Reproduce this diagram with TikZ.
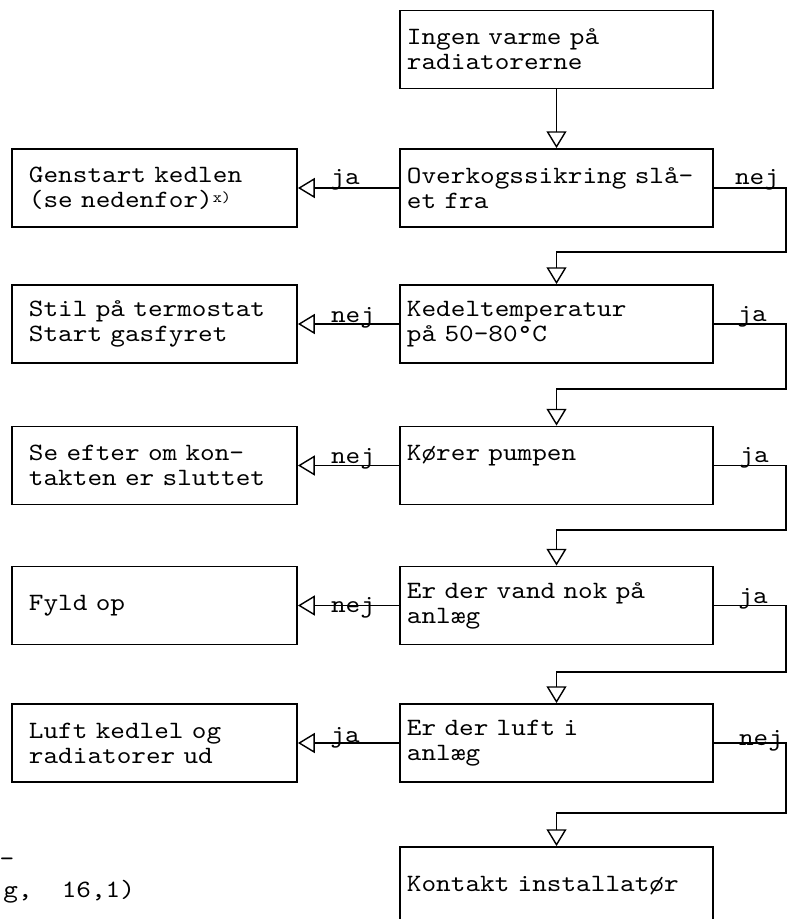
\documentclass[tikz,border=0pt]{standalone}
\usepackage{fontspec}
\setmonofont{lmmono10-regular.otf}[FakeStretch=1.12]
\usetikzlibrary{arrows.meta}

\begin{document}
\begin{tikzpicture}[
  x=0.025cm, y=-0.025cm,
  check/.style={
    rectangle, draw, line width=1.3pt,
    minimum width=7.825cm, minimum height=1.95cm,
    inner xsep=0.175cm, text width=7.475cm, align=left,
    font=\fontsize{17.7}{17.8}\selectfont\ttfamily
  },
  action/.style={
    rectangle, draw, line width=1.3pt,
    minimum width=7.125cm, minimum height=1.95cm,
    inner xsep=0.425cm, text width=6.275cm, align=left,
    font=\fontsize{17.7}{17.8}\selectfont\ttfamily
  },
  flow/.style={-{Triangle[open, length=0.42cm, width=0.5cm]}, line width=1pt},
  answer/.style={anchor=base, inner sep=0pt, font=\fontsize{17.7}{17.8}\selectfont\ttfamily},
]
\useasboundingbox (0,0) rectangle (788,919);
\clip (0,0) rectangle (788,919);

%% Questions (right column)
\node[check] (q1) at (556.5, 49.5) {Ingen varme på\\radiatorerne};
\node[check] (q2) at (556.5, 188) {Overkogssikring slå-\\et fra};
\node[check] (q3) at (556.5, 324) {Kedeltemperatur\\på 50-80°C};
\node[check] (q4) at (556.5, 465.5) {Kører pumpen\\\mbox{}};
\node[check] (q5) at (556.5, 605.5) {Er der vand nok på\\anlæg};
\node[check] (q6) at (556.5, 743) {Er der luft i\\anlæg};
\node[check] (q7) at (556.5, 886) {Kontakt installatør};

%% Actions (left column)
\node[action] (a2) at (154.5, 188) {Genstart kedlen\\(se nedenfor)\raisebox{.45ex}{\fontsize{11}{11}\selectfont x)}};
\node[action] (a3) at (154.5, 324) {Stil på termostat\\Start gasfyret};
\node[action] (a4) at (154.5, 465.5) {Se efter om kon-\\takten er sluttet};
\node[action] (a5) at (154.5, 605.5) {Fyld op};
\node[action] (a6) at (154.5, 743) {Luft kedlel og\\radiatorer ud};

%% Turning points of the loops
\coordinate (t2) at (786, 252);
\coordinate (t3) at (786, 389);
\coordinate (t4) at (786, 530);
\coordinate (t5) at (786, 672);
\coordinate (t6) at (786, 813);

%% Connectors
\draw[flow] (q1) -- (q2);
\draw[flow] (q2.east) -| (t2) -| (q3.north);
\draw[flow] (q3.east) -| (t3) -| (q4.north);
\draw[flow] (q4.east) -| (t4) -| (q5.north);
\draw[flow] (q5.east) -| (t5) -| (q6.north);
\draw[flow] (q6.east) -| (t6) -| (q7.north);

\draw[flow] (q2) -- (a2);
\draw[flow] (q3) -- (a3);
\draw[flow] (q4) -- (a4);
\draw[flow] (q5) -- (a5);
\draw[flow] (q6) -- (a6);

%% Answers
\node[answer] (j2) at (345, 185) {ja};
\node[answer] (n3) at (353, 322) {nej};
\node[answer] (n4) at (353, 463) {nej};
\node[answer] (n5) at (353, 612) {nej};
\node[answer] (j6) at (345, 742) {ja};

\node[answer] (n2r) at (757, 185) {nej};
\node[answer] (j3r) at (752, 321) {ja};
\node[answer] (j4r) at (754, 462) {ja};
\node[answer] (j5r) at (753, 603) {ja};
\node[answer] (n6r) at (761, 745) {nej};

%% Cut-off text at the lower left
\node[answer] (cut1) at (7, 866) {-};
\node[answer, anchor=base west] (cut2) at (3, 897) {g,~~16,1)};

\end{tikzpicture}
\end{document}
